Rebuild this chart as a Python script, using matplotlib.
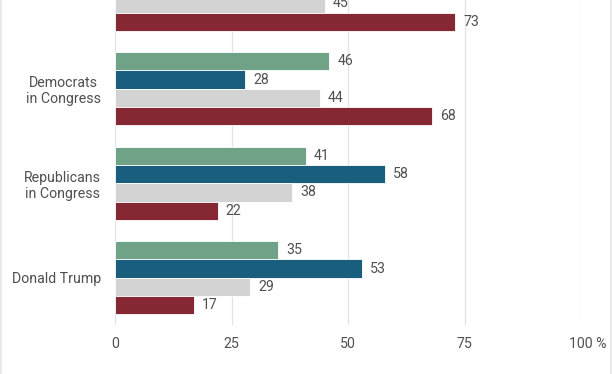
import numpy as np
import matplotlib
matplotlib.use("Agg")
import matplotlib.pyplot as plt
import matplotlib.transforms as mtransforms
from matplotlib.lines import Line2D

plt.rcParams['font.family'] = ['Roboto', 'DejaVu Sans']

# Data (top group is cut off in the reference; only its last two bars are visible)
categories = ["", "Democrats\nin Congress", "Republicans\nin Congress", "Donald Trump"]
series_green = [np.nan, 46, 41, 35]
series_blue = [np.nan, 28, 58, 53]
series_gray = [45, 44, 38, 29]
series_red = [73, 68, 22, 17]
x_ticks = [0, 25, 50, 75, 100]
x_tick_labels = ["0", "25", "50", "75", "100 %"]

colors = ["#6fa287", "#195e7d", "#d3d3d3", "#862734"]
series = [series_green, series_blue, series_gray, series_red]
text_color = "#505050"
fs = 10.2

W, H = 612, 374
fig = plt.figure(figsize=(W / 100, H / 100), dpi=100)
fig.patch.set_facecolor("white")

# axes placement (top extends above the canvas, as the reference is cropped)
left_px, right_px = 115, 581
bottom_px = 325
pitch = 94.5
top_px = bottom_px - 4 * pitch
ax = fig.add_axes([left_px / W, (H - bottom_px) / H,
                   (right_px - left_px) / W, (bottom_px - top_px) / H])

y = np.arange(len(categories))
h = 0.1937
offsets = np.array([-1.5, -0.5, 0.5, 1.5]) * h
for vals, col, off in zip(series, colors, offsets):
    vals = np.array(vals, dtype=float)
    ax.barh(y + off, vals, height=h, color=col, edgecolor="white",
            linewidth=0.6, zorder=3)
    for yi, v in zip(y, vals):
        if np.isnan(v):
            continue
        ax.annotate(f"{int(v)}", xy=(v, yi + off), xytext=(5.8, 0),
                    textcoords="offset points", ha="left", va="center",
                    fontsize=fs, color=text_color)

ax.set_xlim(0, 100)
ax.set_ylim(3.5, -0.5)
ax.set_xticks(x_ticks)
ax.set_xticklabels(x_tick_labels, fontsize=fs, color=text_color)
ax.set_yticks(y)
ax.set_yticklabels(categories, fontsize=fs, color=text_color,
                   multialignment="center")
ax.tick_params(axis="both", length=0)
ax.tick_params(axis="x", pad=8.5)
ax.tick_params(axis="y", pad=10)
ax.grid(axis="x", color="#e3e3e3", linewidth=0.9, zorder=0)
ax.set_axisbelow(True)
for s in ax.spines.values():
    s.set_visible(False)

# the "100 %" label: number centred on its tick, unit hanging to the right
last = ax.get_xticklabels()[-1]
last.set_transform(last.get_transform() +
                   mtransforms.ScaledTranslation(7 / 100, 0, fig.dpi_scale_trans))

# light frame lines at the left and right edges of the canvas
fig.add_artist(Line2D([1 / W, 1 / W], [0, 1], color="#e6e6e6", linewidth=1.2,
                      transform=fig.transFigure))
fig.add_artist(Line2D([610.5 / W, 610.5 / W], [0, 1], color="#e6e6e6",
                      linewidth=1.2, transform=fig.transFigure))

fig.savefig("out.png", dpi=100)
